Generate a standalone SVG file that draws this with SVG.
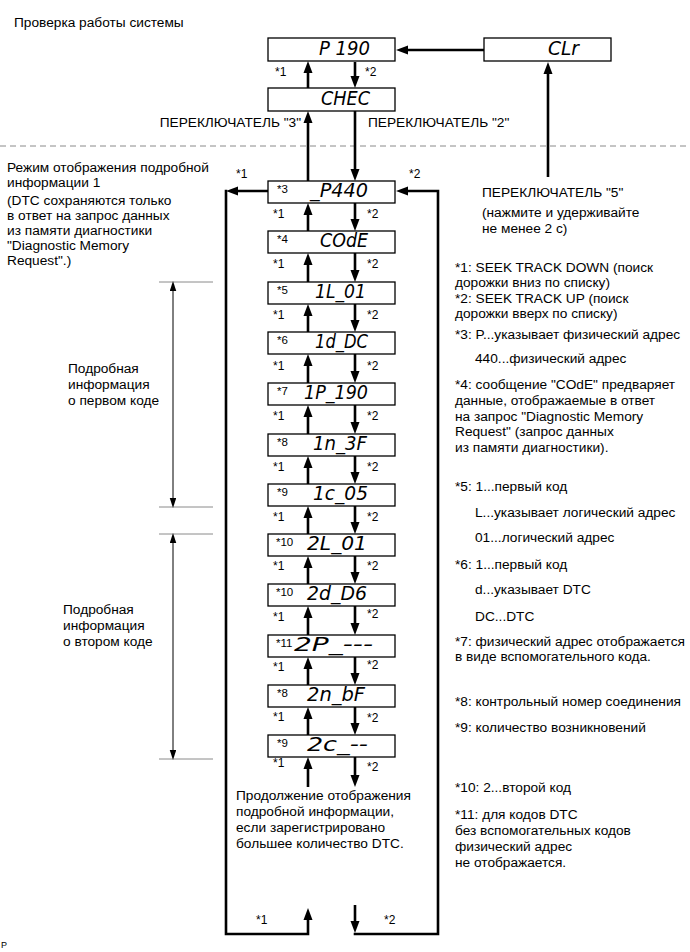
<svg xmlns="http://www.w3.org/2000/svg" width="690" height="952" viewBox="0 0 690 952">
<style>
.t{font-family:"Liberation Sans",Arial,sans-serif;font-size:13.7px;fill:#000}
.s{font-family:"Liberation Sans",Arial,sans-serif;font-size:12px;fill:#000}
.n{font-family:"Liberation Sans",Arial,sans-serif;font-size:11.5px;fill:#000}
.seg{font-family:"DejaVu Sans Condensed","DejaVu Sans",sans-serif;font-style:oblique;font-size:19px;fill:#000}
.box{fill:#fff;stroke:#000;stroke-width:1.3}
.c{fill:none;stroke:#000;stroke-width:2.6;marker-end:url(#ah)}
.d{fill:none;stroke:#000;stroke-width:1;marker-start:url(#sa);marker-end:url(#sa)}
.g{fill:none;stroke:#8a8a8a;stroke-width:1}
</style>
<defs>
<marker id="ah" markerUnits="userSpaceOnUse" markerWidth="12" markerHeight="10" refX="6" refY="5" orient="auto"><path d="M0,0.5 L12,5 L0,9.5 z" fill="#000"/></marker>
<marker id="sa" markerUnits="userSpaceOnUse" markerWidth="10" markerHeight="7" refX="4.5" refY="3.25" orient="auto-start-reverse"><path d="M0,0 L10,3.25 L0,6.5 z" fill="#000"/></marker>
</defs>
<rect width="690" height="952" fill="#fff"/>

<text class="t" x="14" y="27">Проверка работы системы</text>
<line x1="0" y1="146" x2="690" y2="146" stroke="#8a8a8a" stroke-width="1" stroke-dasharray="6 4"/>

<g id="connectors">
<path class="c" d="M484,50 H402"/>
<path class="c" d="M548,177 V68"/>
<path class="c" d="M308,88 V67"/>
<path class="c" d="M355,62 V82"/>
<path class="c" d="M308,181 V117"/>
<path class="c" d="M355,111 V175"/>
<path class="c" d="M308,231 V209"/><path class="c" d="M355,203 V225"/>
<path class="c" d="M308,282 V259"/><path class="c" d="M355,253 V276"/>
<path class="c" d="M308,332 V310"/><path class="c" d="M355,304 V326"/>
<path class="c" d="M308,383 V360"/><path class="c" d="M355,354 V377"/>
<path class="c" d="M308,434 V411"/><path class="c" d="M355,405 V428"/>
<path class="c" d="M308,484 V462"/><path class="c" d="M355,456 V478"/>
<path class="c" d="M308,534 V512"/><path class="c" d="M355,506 V528"/>
<path class="c" d="M308,584 V562"/><path class="c" d="M355,556 V578"/>
<path class="c" d="M308,635 V612"/><path class="c" d="M355,606 V629"/>
<path class="c" d="M308,685 V663"/><path class="c" d="M355,657 V679"/>
<path class="c" d="M308,735 V713"/><path class="c" d="M355,707 V729"/>
<path class="c" d="M308,787 V763"/><path class="c" d="M355,757 V781"/>
<path class="c" d="M268,191 H232"/>
<path class="c" d="M226,189.7 V934 H308 V914"/>
<path class="c" d="M355,905 V927"/>
<path class="c" d="M353.7,934 H438 V191 H402"/>
</g>

<g id="labels">
<text class="s" x="275" y="76">*1</text><text class="s" x="365" y="76">*2</text>
<text class="t" x="301" y="127" text-anchor="end">ПЕРЕКЛЮЧАТЕЛЬ "3"</text>
<text class="t" x="368" y="127">ПЕРЕКЛЮЧАТЕЛЬ "2"</text>
<text class="s" x="236" y="178">*1</text><text class="s" x="409" y="178">*2</text>
<text class="s" x="273" y="218">*1</text><text class="s" x="367" y="218">*2</text>
<text class="s" x="273" y="268">*1</text><text class="s" x="367" y="268">*2</text>
<text class="s" x="273" y="319">*1</text><text class="s" x="367" y="319">*2</text>
<text class="s" x="273" y="370">*1</text><text class="s" x="367" y="370">*2</text>
<text class="s" x="273" y="420">*1</text><text class="s" x="367" y="420">*2</text>
<text class="s" x="273" y="471">*1</text><text class="s" x="367" y="471">*2</text>
<text class="s" x="273" y="521">*1</text><text class="s" x="367" y="521">*2</text>
<text class="s" x="273" y="570">*1</text><text class="s" x="367" y="570">*2</text>
<text class="s" x="273" y="621">*1</text><text class="s" x="367" y="618">*2</text>
<text class="s" x="273" y="671">*1</text><text class="s" x="367" y="669">*2</text>
<text class="s" x="273" y="721">*1</text><text class="s" x="367" y="722">*2</text>
<text class="s" x="273" y="767">*1</text><text class="s" x="367" y="771">*2</text>
<text class="s" x="256" y="924">*1</text><text class="s" x="384" y="924">*2</text>
</g>

<g id="n-p190"><rect class="box" x="268" y="38" width="127" height="23"/><text class="seg" x="319" y="55" textLength="51" lengthAdjust="spacingAndGlyphs">P 190</text></g>
<g id="n-clr"><rect class="box" x="484" y="38" width="127" height="23"/><text class="seg" x="548" y="55" textLength="31" lengthAdjust="spacingAndGlyphs">CLr</text></g>
<g id="n-chec"><rect class="box" x="268" y="88" width="127" height="23"/><text class="seg" x="321" y="105" textLength="49" lengthAdjust="spacingAndGlyphs">CHEC</text></g>

<g id="n-p440"><rect class="box" x="268" y="181" width="127" height="22"/><text class="n" x="277" y="193">*3</text><text class="seg" x="310" y="197" textLength="58" lengthAdjust="spacingAndGlyphs">_P440</text></g>
<g id="n-code"><rect class="box" x="268" y="231" width="127" height="22"/><text class="n" x="277" y="243">*4</text><text class="seg" x="320" y="247" textLength="48" lengthAdjust="spacingAndGlyphs">COdE</text></g>
<g id="n-1l01"><rect class="box" x="268" y="282" width="127" height="22"/><text class="n" x="277" y="294">*5</text><text class="seg" x="315" y="298" textLength="51" lengthAdjust="spacingAndGlyphs">1L_01</text></g>
<g id="n-1ddc"><rect class="box" x="268" y="332" width="127" height="22"/><text class="n" x="277" y="344">*6</text><text class="seg" x="315" y="348" textLength="53" lengthAdjust="spacingAndGlyphs">1d_DC</text></g>
<g id="n-1p190"><rect class="box" x="268" y="383" width="127" height="22"/><text class="n" x="277" y="395">*7</text><text class="seg" x="304" y="399" textLength="64" lengthAdjust="spacingAndGlyphs">1P_190</text></g>
<g id="n-1n3f"><rect class="box" x="268" y="434" width="127" height="22"/><text class="n" x="277" y="446">*8</text><text class="seg" x="313" y="450" textLength="54" lengthAdjust="spacingAndGlyphs">1n_3F</text></g>
<g id="n-1c05"><rect class="box" x="268" y="484" width="127" height="22"/><text class="n" x="277" y="496">*9</text><text class="seg" x="313" y="500" textLength="55" lengthAdjust="spacingAndGlyphs">1c_05</text></g>
<g id="n-2l01"><rect class="box" x="268" y="534" width="127" height="22"/><text class="n" x="276" y="546">*10</text><text class="seg" x="307" y="550" textLength="60" lengthAdjust="spacingAndGlyphs">2L_01</text></g>
<g id="n-2dd6"><rect class="box" x="268" y="584" width="127" height="22"/><text class="n" x="276" y="596">*10</text><text class="seg" x="307" y="600" textLength="60" lengthAdjust="spacingAndGlyphs">2d_D6</text></g>
<g id="n-2p"><rect class="box" x="268" y="635" width="127" height="22"/><text class="n" x="276" y="647">*11</text><text class="seg" x="294" y="651" textLength="79" lengthAdjust="spacingAndGlyphs">2P_---</text></g>
<g id="n-2nbf"><rect class="box" x="268" y="685" width="127" height="22"/><text class="n" x="277" y="697">*8</text><text class="seg" x="307" y="701" textLength="58" lengthAdjust="spacingAndGlyphs">2n_bF</text></g>
<g id="n-2c"><rect class="box" x="268" y="735" width="127" height="22"/><text class="n" x="277" y="747">*9</text><text class="seg" x="307" y="751" textLength="61" lengthAdjust="spacingAndGlyphs">2c_--</text></g>

<g id="continuation">
<text class="t" x="236" y="800">Продолжение отображения</text>
<text class="t" x="236" y="816">подробной информации,</text>
<text class="t" x="236" y="832">если зарегистрировано</text>
<text class="t" x="236" y="848">большее количество DTC.</text>
</g>

<g id="left-notes">
<text class="t" x="7" y="172">Режим отображения подробной</text>
<text class="t" x="7" y="187">информации 1</text>
<text class="t" x="7" y="205">(DTC сохраняются только</text>
<text class="t" x="7" y="220">в ответ на запрос данных</text>
<text class="t" x="7" y="235">из памяти диагностики</text>
<text class="t" x="7" y="250">"Diagnostic Memory</text>
<text class="t" x="7" y="265">Request".)</text>
</g>

<g id="dim-first">
<line class="g" x1="159" y1="282" x2="213" y2="282"/>
<line class="g" x1="159" y1="507" x2="213" y2="507"/>
<path class="d" d="M173,286.5 V502.5"/>
<text class="t" x="68" y="373">Подробная</text>
<text class="t" x="68" y="389">информация</text>
<text class="t" x="68" y="405">о первом коде</text>
</g>
<g id="dim-second">
<line class="g" x1="159" y1="534" x2="213" y2="534"/>
<line class="g" x1="159" y1="759" x2="213" y2="759"/>
<path class="d" d="M173,538.5 V754.5"/>
<text class="t" x="63" y="614">Подробная</text>
<text class="t" x="63" y="630">информация</text>
<text class="t" x="63" y="646">о втором коде</text>
</g>

<g id="right-notes">
<text class="t" x="482" y="197">ПЕРЕКЛЮЧАТЕЛЬ "5"</text>
<text class="t" x="482" y="217">(нажмите и удерживайте</text>
<text class="t" x="482" y="233">не менее 2 с)</text>
<text class="t" x="455" y="272">*1: SEEK TRACK DOWN (поиск</text>
<text class="t" x="455" y="287">дорожки вниз по списку)</text>
<text class="t" x="455" y="303">*2: SEEK TRACK UP (поиск</text>
<text class="t" x="455" y="318">дорожки вверх по списку)</text>
<text class="t" x="455" y="339">*3: P...указывает физический адрес</text>
<text class="t" x="475" y="363">440...физический адрес</text>
<text class="t" x="455" y="389">*4: сообщение "COdE" предваряет</text>
<text class="t" x="455" y="405">данные, отображаемые в ответ</text>
<text class="t" x="455" y="421">на запрос "Diagnostic Memory</text>
<text class="t" x="455" y="436">Request" (запрос данных</text>
<text class="t" x="455" y="452">из памяти диагностики).</text>
<text class="t" x="455" y="491">*5: 1...первый код</text>
<text class="t" x="475" y="517">L...указывает логический адрес</text>
<text class="t" x="475" y="542">01...логический адрес</text>
<text class="t" x="455" y="569">*6: 1...первый код</text>
<text class="t" x="475" y="594">d...указывает DTC</text>
<text class="t" x="475" y="621">DC...DTC</text>
<text class="t" x="455" y="646">*7: физический адрес отображается</text>
<text class="t" x="455" y="661">в виде вспомогательного кода.</text>
<text class="t" x="455" y="706">*8: контрольный номер соединения</text>
<text class="t" x="455" y="732">*9: количество возникновений</text>
<text class="t" x="455" y="792">*10: 2...второй код</text>
<text class="t" x="455" y="819">*11: для кодов DTC</text>
<text class="t" x="455" y="835">без вспомогательных кодов</text>
<text class="t" x="455" y="851">физический адрес</text>
<text class="t" x="455" y="867">не отображается.</text>
</g>

<text x="1" y="948" font-family="Liberation Sans, Arial, sans-serif" font-size="9">P</text>
</svg>
